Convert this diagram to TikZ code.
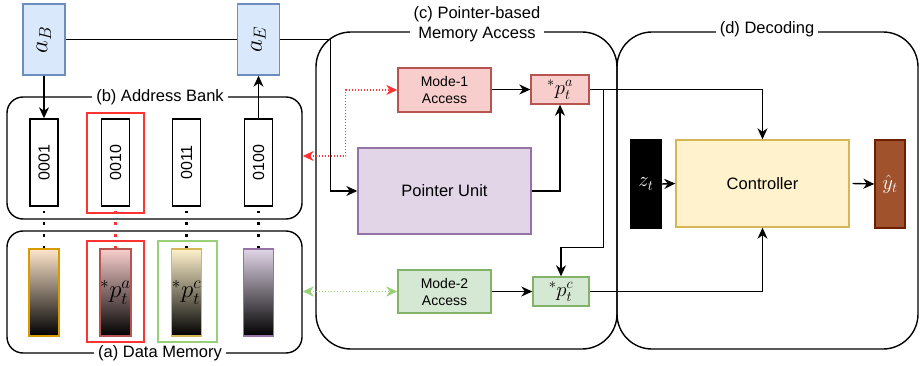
\documentclass[tikz,border=0pt]{standalone}
\usepackage[no-math]{fontspec}
\setmainfont{Liberation Sans}
\usepackage{graphicx}
\usetikzlibrary{arrows.meta,calc}
\definecolor{blueF}{HTML}{DAE8FC}\definecolor{blueD}{HTML}{6C8EBF}
\definecolor{redF}{HTML}{F8CECC}\definecolor{redD}{HTML}{B85450}
\definecolor{greenF}{HTML}{D5E8D4}\definecolor{greenD}{HTML}{82B366}
\definecolor{purpF}{HTML}{E1D5E7}\definecolor{purpD}{HTML}{9673A6}
\definecolor{yelF}{HTML}{FFF2CC}\definecolor{yelD}{HTML}{D6B656}
\definecolor{orF}{HTML}{FFE6CC}\definecolor{orD}{HTML}{D79B00}
\definecolor{brF}{HTML}{A0522D}\definecolor{brD}{HTML}{6D1F00}
\definecolor{hired}{HTML}{FF3333}\definecolor{higreen}{HTML}{97D077}
\tikzset{
  bigf/.style={font=\fontsize{16.5}{20}\selectfont},
  smallf/.style={font=\fontsize{14}{17}\selectfont},
  digf/.style={font=\fontsize{16}{18}\selectfont},
  blk/.style={draw, line width=1.4pt, inner sep=0pt, align=center},
  sect/.style={draw, line width=1.4pt, rounded corners=35pt, minimum width=301pt, minimum height=317pt},
  bank/.style={draw, line width=1.4pt, rounded corners=16pt, minimum width=295pt, minimum height=122pt},
  cell/.style={draw, line width=1.4pt, minimum width=28pt, minimum height=87pt, inner sep=0pt, digf},
  dcell/.style={draw=#1D, line width=1.4pt, top color=#1F, bottom color=black, minimum width=30pt, minimum height=87pt, inner sep=0pt},
  hbox/.style={draw=#1, line width=1.4pt, minimum width=57pt, minimum height=100pt},
  seclab/.style={fill=white, inner xsep=4pt, inner ysep=1pt, bigf, align=center},
  arr/.style={line width=1.4pt, -{Stealth[length=11pt,width=10pt,inset=3.5pt]}},
  ln/.style={line width=1.4pt},
  dotarr/.style={line width=1.4pt, draw=#1, dash pattern=on 1.5pt off 1.5pt,
    {Stealth[length=11pt,width=10pt,inset=3.5pt,fill=#1]}-{Stealth[length=11pt,width=10pt,inset=3.5pt,fill=#1]}},
  sepdots/.style={draw=#1, line width=2.6pt, dash pattern=on 2.6pt off 9.1pt, dash phase=7.9pt},
  mbig/.style={font=\fontsize{23}{23}\selectfont},
  mmid/.style={font=\fontsize{22}{22}\selectfont},
}
\begin{document}
\begin{tikzpicture}[x=1pt,y=-1pt]
\useasboundingbox (0,0) rectangle (923,366);

% sections c and d
\node[sect] (secC) at (466.5,190.5) {};
\node[sect] (secD) at (767.5,190.5) {};
\node[seclab] (labC) at (477,24) {(c) Pointer-based\\Memory Access};
\node[seclab] (labD) at (767,29) {(d) Decoding};

% address bank and data memory
\node[bank] (bankA) at (154.5,158) {};
\node[bank] (dmem) at (154.5,292) {};
\node[seclab] (labB) at (160,97) {(b) Address Bank};
\node[seclab] (labA) at (160,353) {(a) Data Memory};

% highlight boxes
\node[hbox=hired] (hA) at (115.5,163) {};
\node[hbox=hired, minimum height=101pt] (hD) at (115.5,291.5) {};
\node[hbox=higreen, minimum width=59pt, minimum height=101pt] (hG) at (187.5,291.5) {};

% address cells
\node[cell] (c1) at (44,162.5) {\rotatebox{90}{0001}};
\node[cell] (c2) at (115.5,162.5) {\rotatebox{90}{0010}};
\node[cell] (c3) at (186.5,162.5) {\rotatebox{90}{0011}};
\node[cell] (c4) at (258.5,162.5) {\rotatebox{90}{0100}};

% data cells
\node[dcell=or] (d1) at (44,292.5) {};
\node[dcell=red, mbig] (d2) at (115.5,292.5) {$^*p_t^a$};
\node[dcell=yel, mbig] (d3) at (186.5,292.5) {$^*p_t^c$};
\node[dcell=purp] (d4) at (258.5,292.5) {};

% separator dots
\draw[sepdots=black] (c1.south) -- (d1.north);
\draw[sepdots=hired] (c2.south) -- (d2.north);
\draw[sepdots=black] (c3.south) -- (d3.north);
\draw[sepdots=black] (c4.south) -- (d4.north);

% a_B, a_E
\node[blk, draw=blueD, fill=blueF, minimum width=42pt, minimum height=71pt] (aB) at (44,39.5) {\rotatebox{90}{\fontsize{25}{25}\selectfont$a_B$}};
\node[blk, draw=blueD, fill=blueF, minimum width=42pt, minimum height=71pt] (aE) at (258.5,39.5) {\rotatebox{90}{\fontsize{25}{25}\selectfont$a_E$}};

% pointer-based memory access
\node[blk, draw=redD, fill=redF, minimum width=93pt, minimum height=44pt, smallf] (m1) at (444.5,90) {Mode-1\\Access};
\node[blk, draw=redD, fill=redF, minimum width=58pt, minimum height=29pt, mmid] (pa) at (560,89.5) {$^*p_t^a$};
\node[blk, draw=purpD, fill=purpF, minimum width=173pt, minimum height=86pt, bigf] (pu) at (444.5,191) {Pointer Unit};
\node[blk, draw=greenD, fill=greenF, minimum width=93pt, minimum height=43pt, smallf] (m2) at (444.5,291.5) {Mode-2\\Access};
\node[blk, draw=greenD, fill=greenF, minimum width=56pt, minimum height=29pt, mmid] (pc) at (561,291.5) {$^*p_t^c$};

% decoding
\node[blk, draw=black, fill=black, text=white, minimum width=30pt, minimum height=88pt, mmid] (zt) at (646,184) {$z_t$};
\node[blk, draw=yelD, fill=yelF, minimum width=173pt, minimum height=87pt, bigf] (ctrl) at (762.5,183.5) {Controller};
\node[blk, draw=brD, fill=brF, text=white, minimum width=30pt, minimum height=88pt, mmid] (yh) at (890,184) {$\hat{y}_t$};

% connectors
\draw[ln] (aB.east) -- (aE.west);
\draw[arr] (aE.east) -| ([xshift=-27pt]pu.west) -- (pu.west);
\draw[arr] (aB.south) -- (c1.north);
\draw[arr] (c4.north) -- (aE.south);
\draw[arr] (m1.east |- pa.west) -- (pa.west);
\draw[arr] (pu.east) -| (pa.south);
\draw[arr] (m2.east) -- (pc.west);
\draw[arr] (pa.east) -| (ctrl.north);
\draw[arr] ([xshift=14pt]pa.east) |- ($(pc.north)+(0,-29)$) -- (pc.north);
\draw[arr] (pc.east) -| (ctrl.south);
\draw[arr] (zt.east) -- (ctrl.west);
\draw[arr] ([xshift=3pt]ctrl.east) -- (yh.west);
\draw[dotarr=hired] ([yshift=2pt]bankA.east) -- ++(43,0) |- (m1.west);
\draw[dotarr=higreen] (m2.west -| dmem.east) -- (m2.west);
\end{tikzpicture}
\end{document}
